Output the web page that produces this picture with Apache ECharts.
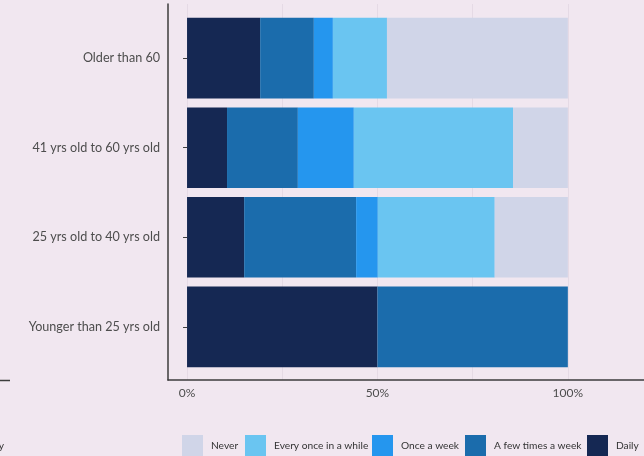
<!DOCTYPE html>
<html>
<head>
<meta charset="utf-8">
<script src="https://cdn.jsdelivr.net/npm/echarts@6/dist/echarts.min.js"></script>
<style>
html,body{margin:0;padding:0;background:#F1E7F0;}
#c{width:644px;height:456px;}
</style>
</head>
<body>
<div id="c"></div>
<script>
const categories = ["Older than 60", "41 yrs old to 60 yrs old", "25 yrs old to 40 yrs old", "Younger than 25 yrs old"];
const seriesNames = ["Daily", "A few times a week", "Once a week", "Every once in a while", "Never"];
const daily      = [19.2, 10.5, 15.0, 50.0];
const fewTimes   = [14.1, 18.6, 29.4, 50.0];
const onceWeek   = [5.0, 14.7, 5.7, 0];
const everyOnce  = [14.2, 41.8, 30.7, 0];
const never      = [47.5, 14.4, 19.2, 0];
const xTickLabels = ["0%", "50%", "100%"];
const legendOrder = ["Never", "Every once in a while", "Once a week", "A few times a week", "Daily"];

const colors = {
  "Daily": "#152853",
  "A few times a week": "#1B6CAC",
  "Once a week": "#2596EE",
  "Every once in a while": "#6AC5F1",
  "Never": "#D0D5E8"
};
const values = [daily, fewTimes, onceWeek, everyOnce, never];
const font = "Lato";

const legendLeft = [182, 245, 372, 465, 587];

const chart = echarts.init(document.getElementById('c'), null, {renderer: 'canvas'});
const option = {
  backgroundColor: '#F1E7F0',
  animation: false,
  grid: [
    {left: 168, width: 476, top: 13.3, height: 358.4, outerBoundsMode: 'none', containLabel: false},
    {left: 168, width: 476, top: 4, bottom: 76, outerBoundsMode: 'none', containLabel: false},
    {left: 187, width: 476, top: 4, bottom: 76, outerBoundsMode: 'none', containLabel: false}
  ],
  xAxis: [
    {gridIndex: 0, type: 'value', min: -5, max: 120, show: false},
    {gridIndex: 1, type: 'value', min: 0, max: 1,
      axisLine: {show: true, lineStyle: {color: '#3d3d3d', width: 1.5}},
      axisTick: {show: false}, axisLabel: {show: false}, splitLine: {show: false}},
    {gridIndex: 2, type: 'value', min: 0, max: 125, interval: 25,
      axisLine: {show: false}, axisTick: {show: false},
      axisLabel: {show: true, margin: 7, color: '#4d4d4d', fontFamily: font, fontSize: 12,
        formatter: function (v) {
          if (v === 0) return xTickLabels[0];
          if (v === 50) return xTickLabels[1];
          if (v === 100) return xTickLabels[2];
          return '';
        }},
      splitLine: {show: true, lineStyle: {color: '#E5DAE5', width: 1}}}
  ],
  yAxis: [
    {gridIndex: 0, type: 'category', data: categories, inverse: true,
      axisLine: {show: false},
      axisTick: {show: true, alignWithLabel: true, length: 4, lineStyle: {color: '#3d3d3d', width: 1}},
      axisLabel: {margin: 8, color: '#4d4d4d', fontFamily: font, fontSize: 12.6}},
    {gridIndex: 1, type: 'value', min: 0, max: 1,
      axisLine: {show: true, lineStyle: {color: '#3d3d3d', width: 1.5}},
      axisTick: {show: false}, axisLabel: {show: false}, splitLine: {show: false}},
    {gridIndex: 2, type: 'value', min: 0, max: 1, show: false}
  ],
  legend: legendOrder.map(function (name, i) {
    return {
      data: [{name: name, icon: 'rect'}],
      left: legendLeft[i], top: 435, padding: 0,
      itemWidth: 21, itemHeight: 21,
      selectedMode: false,
      textStyle: {color: '#333', fontFamily: font, fontSize: 10.2, padding: [0, 0, 0, 3]}
    };
  }),
  series: seriesNames.map(function (name, i) {
    return {
      name: name, type: 'bar', stack: 'total',
      xAxisIndex: 0, yAxisIndex: 0,
      barCategoryGap: '10%',
      itemStyle: {color: colors[name]},
      data: values[i]
    };
  }),
  graphic: [
    {type: 'line', shape: {x1: 0, y1: 380.5, x2: 10, y2: 380.5}, style: {stroke: '#3d3d3d', lineWidth: 1.5}},
    {type: 'text', x: 4, y: 446, style: {text: 'Daily', align: 'right', verticalAlign: 'middle', fill: '#333', font: '10.2px Lato'}}
  ]
};
chart.setOption(option);
</script>
</body>
</html>
